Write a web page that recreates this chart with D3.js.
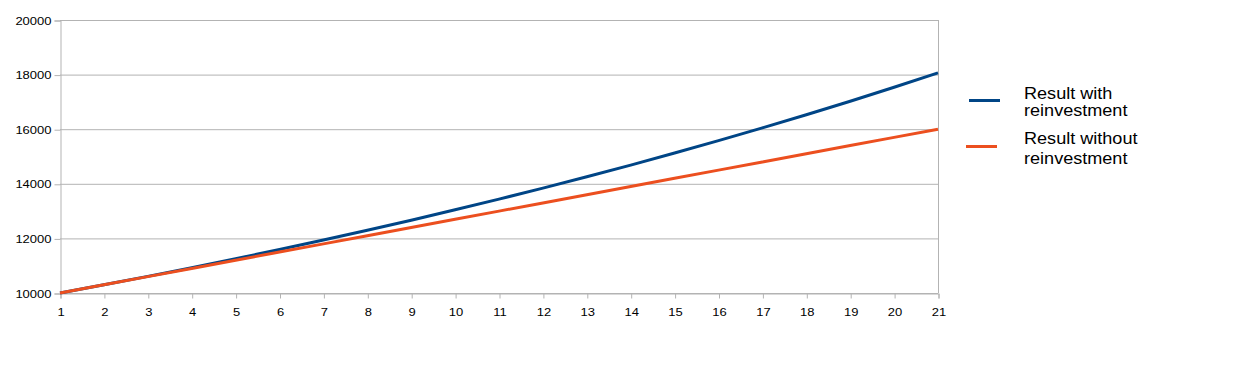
<!DOCTYPE html>
<html><head><meta charset="utf-8">
<script src="https://cdn.jsdelivr.net/npm/d3@7"></script>
<style>body{margin:0;background:#fff}svg{display:block}text{font-family:"Liberation Sans",Arial,sans-serif}</style>
</head><body><svg id="c" width="1253" height="380"></svg>
<script>
const years = [1,2,3,4,5,6,7,8,9,10,11,12,13,14,15,16,17,18,19,20,21];
const withReinvest = [10000,10300,10609,10927,11255,11593,11941,12299,12668,13048,13439,13842,14258,14685,15126,15580,16047,16528,17024,17535,18061];
const withoutReinvest = [10000,10300,10600,10900,11200,11500,11800,12100,12400,12700,13000,13300,13600,13900,14200,14500,14800,15100,15400,15700,16000];
const yTicks = [10000,12000,14000,16000,18000,20000];
const seriesNames = [["Result with","reinvestment"],["Result without","reinvestment"]];
const colors = ["#004586","#ec4f1f"];

const svg = d3.select("#c");
const L=60,R=938,T=20,B=293;
const SX=1.13;
const x = d3.scaleLinear().domain([1,21]).range([L,R]);
const y = d3.scaleLinear().domain([10000,20000]).range([B,T]);
const grid="#b3b3b3";

svg.append("g").selectAll("line").data(yTicks).join("line")
  .attr("x1",L).attr("x2",R).attr("y1",d=>y(d)+0.5).attr("y2",d=>y(d)+0.5)
  .attr("stroke",grid).attr("stroke-width",1);
svg.append("line").attr("x1",R+0.5).attr("x2",R+0.5).attr("y1",T).attr("y2",B).attr("stroke",grid);

const yAxis = svg.append("g").attr("transform",`translate(${L+0.5},0.5)`)
  .call(d3.axisLeft(y).tickValues(yTicks).tickSize(6).tickPadding(3).tickFormat(d3.format("d")));
const xAxis = svg.append("g").attr("transform",`translate(0.5,${B+0.5})`)
  .call(d3.axisBottom(x).tickValues(years).tickSize(5).tickPadding(9).tickFormat(d3.format("d")));
[yAxis,xAxis].forEach(a=>{
  a.select(".domain").attr("stroke",grid);
  a.selectAll(".tick line").attr("stroke",grid);
  a.selectAll("text").attr("fill","#000").style("font-size","11.5px")
    .style("font-family","'Liberation Sans',Arial,sans-serif")
    .attr("transform",`scale(${SX},1)`);
});
yAxis.selectAll("text").attr("x",-9/SX);

const line = d3.line().x((d,i)=>x(years[i])).y(d=>y(d));
[withReinvest,withoutReinvest].forEach((s,k)=>{
  svg.append("path").datum(s).attr("d",line).attr("fill","none")
    .attr("stroke",colors[k]).attr("stroke-width",3).attr("stroke-linejoin","round");
});

const legY=[100.5,146.5];
const legX=[[969,1000],[966,997]];
const baselines=[[99,115.5],[143.5,163.5]];
seriesNames.forEach((n,i)=>{
  svg.append("line").attr("x1",legX[i][0]).attr("x2",legX[i][1]).attr("y1",legY[i]).attr("y2",legY[i])
    .attr("stroke",colors[i]).attr("stroke-width",3);
  n.forEach((p,j)=>{
    svg.append("text").attr("transform",`translate(1024,${baselines[i][j]}) scale(${SX},1)`)
      .style("font-size","16px").attr("fill","#000").text(p);
  });
});
</script></body></html>
